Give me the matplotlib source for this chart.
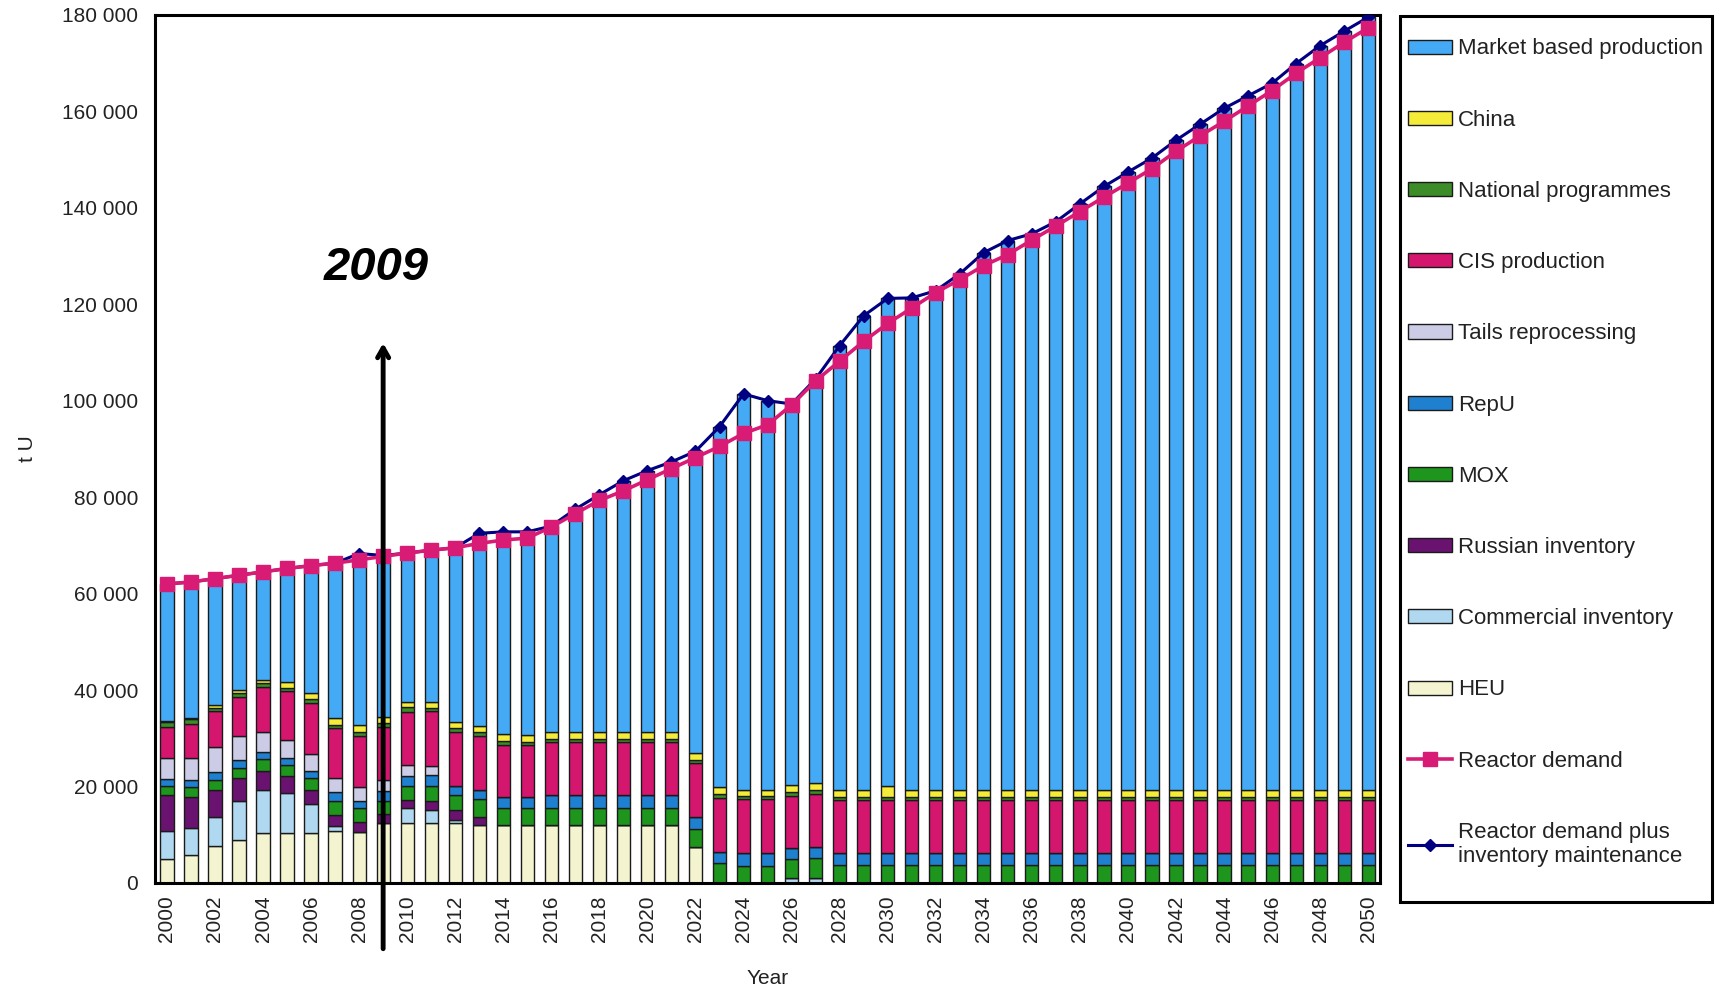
import matplotlib.pyplot as plt
from matplotlib.patches import Patch, Rectangle
from matplotlib.lines import Line2D
from matplotlib.ticker import FuncFormatter

plt.rcParams['font.family'] = ['Liberation Sans', 'DejaVu Sans']

years = list(range(2000, 2051))

# thousand tU
heu = [4.9, 5.8, 7.7, 8.9, 10.3, 10.3, 10.3, 10.8, 10.6, 12.4,
       12.5, 12.5, 12.5, 12.0, 12.0, 12.0, 12.0, 12.0, 12.0, 12.0,
       12.0, 12.0, 7.5] + [0] * 28
commercial_inv = [5.9, 5.5, 5.9, 8.0, 8.9, 8.3, 6.1, 1.0, 0, 0,
                  3.0, 2.6, 0.5] + [0] * 13 + [1.0, 1.0] + [0] * 23
russian_inv = [7.4, 6.5, 5.7, 4.8, 4.1, 3.5, 2.9, 2.3, 2.1, 1.8,
               1.6, 1.8, 2.1, 1.75] + [0] * 37
mox = [2.0, 2.1, 2.1, 2.2, 2.4, 2.3, 2.4, 2.8, 2.8, 2.7,
       3.0, 3.2, 3.2, 3.65, 3.5, 3.5, 3.5, 3.5, 3.5, 3.5,
       3.5, 3.5, 3.6, 4.1, 3.6, 3.6, 4.0, 4.2] + [3.7] * 23
repu = [1.3, 1.4, 1.7, 1.6, 1.4, 1.5, 1.6, 1.9, 1.5, 2.1,
        2.0, 2.3, 1.8, 1.9, 2.3, 2.3, 2.8, 2.8, 2.8, 2.8,
        2.8, 2.8, 2.5, 2.4, 2.7, 2.7, 2.3, 2.3] + [2.6] * 23
tails = [4.4, 4.6, 5.1, 4.9, 4.3, 3.8, 3.5, 2.9, 2.9, 2.4,
         2.4, 1.9] + [0] * 39
cis = [6.4, 7.1, 7.5, 8.2, 9.2, 10.0, 10.5, 10.5, 10.5, 11.0,
       11.0, 11.4, 11.3, 11.1, 10.8, 10.8, 10.9, 10.9, 10.9, 10.9,
       10.9, 10.9, 11.2, 11.1, 11.1, 11.1, 10.8, 10.9] + [11.0] * 23
national = [1.0, 0.9, 0.5, 0.7, 0.9, 0.7, 0.8, 0.6, 0.9, 0.7,
            0.9, 0.5, 0.7, 0.8, 0.8, 0.7, 0.7, 0.7, 0.7, 0.7,
            0.7, 0.7, 0.7, 0.9, 0.7, 0.7, 0.8, 0.9] + [0.6] * 23
china = [0.3, 0.3, 0.7, 0.7, 0.6, 1.3, 1.2, 1.4, 1.4, 1.3,
         1.2, 1.4, 1.2, 1.4, 1.5, 1.4, 1.4, 1.4, 1.4, 1.4,
         1.4, 1.4, 1.4, 1.3, 1.2, 1.2, 1.4, 1.4, 1.4, 1.4,
         2.2] + [1.4] * 20
market = [28.4, 28.2, 26.2, 23.8, 22.4, 23.5, 26.5, 32.1, 35.6, 33.5,
          30.8, 31.4, 36.2, 39.9, 41.9, 42.1, 42.7, 46.2, 49.2, 52.1,
          54.2, 56.0, 62.6, 74.8, 82.1, 80.7, 79.0, 83.8, 92.1, 98.3,
          101.1, 102.0, 103.5, 107.0, 111.4, 113.9, 115.3, 117.8, 121.5, 125.1,
          128.1, 131.0, 134.7, 138.0, 141.3, 143.9, 146.5, 150.6, 154.3, 157.3,
          160.2]

reactor_demand = [62.0, 62.4, 63.1, 63.8, 64.5, 65.2, 65.8, 66.3, 67.0, 67.7,
                  68.4, 69.0, 69.5, 70.4, 71.1, 71.5, 73.8, 76.6, 79.3, 81.3,
                  83.6, 85.9, 88.2, 90.5, 93.2, 95.0, 99.1, 104.1, 108.2, 112.3,
                  116.0, 119.2, 122.4, 125.1, 128.0, 130.3, 133.3, 136.2, 139.2, 142.2,
                  145.1, 148.1, 151.7, 154.9, 157.9, 161.1, 164.3, 167.9, 171.1, 174.3,
                  177.3]
demand_plus_inv = [62.0, 62.4, 63.1, 63.8, 64.5, 65.2, 65.8, 66.3, 68.3, 67.9,
                   68.4, 69.0, 69.5, 72.5, 72.8, 72.8, 74.0, 77.5, 80.5, 83.4,
                   85.5, 87.3, 89.5, 94.6, 101.4, 100.0, 99.3, 104.5, 111.4, 117.6,
                   121.2, 121.3, 122.8, 126.3, 130.7, 133.2, 134.6, 137.1, 140.8, 144.4,
                   147.4, 150.3, 154.0, 157.3, 160.6, 163.2, 165.8, 169.9, 173.6, 176.6,
                   179.5]

# bottom to top
stack = [
    ('HEU', heu, '#F4F4D0'),
    ('Commercial inventory', commercial_inv, '#B0D8F0'),
    ('Russian inventory', russian_inv, '#6A1270'),
    ('MOX', mox, '#1E961E'),
    ('RepU', repu, '#2080D0'),
    ('Tails reprocessing', tails, '#CCCCE6'),
    ('CIS production', cis, '#D4166F'),
    ('National programmes', national, '#3C8C28'),
    ('China', china, '#F5EC3A'),
    ('Market based production', market, '#45AAF5'),
]

fig = plt.figure(figsize=(17.21, 9.86), dpi=100)
ax = fig.add_axes([0.090, 0.1045, 0.712, 0.8805])

bottom = [0.0] * len(years)
for name, vals, col in stack:
    ax.bar(years, [v * 1000 for v in vals], 0.55, bottom=bottom, color=col,
           edgecolor='#1a1a1a', linewidth=1.0, zorder=2)
    bottom = [b + v * 1000 for b, v in zip(bottom, vals)]

ax.plot(years, [v * 1000 for v in demand_plus_inv], color='#000080', lw=2.2,
        marker='D', ms=6.5, zorder=3)
ax.plot(years, [v * 1000 for v in reactor_demand], color='#D81B74', lw=2.6,
        marker='s', ms=9.5, zorder=4)

ax.set_xlim(1999.5, 2050.5)
ax.set_ylim(0, 180000)
ax.set_yticks(range(0, 180001, 20000))
ax.yaxis.set_major_formatter(FuncFormatter(lambda v, p: f'{int(v):,}'.replace(',', ' ')))
ax.set_xticks(years[::2])
ax.set_xticklabels([str(y) for y in years[::2]], rotation=90)
ax.tick_params(axis='both', length=0, labelsize=15, colors='#222222')
ax.tick_params(axis='x', pad=9)
ax.tick_params(axis='y', pad=12)
for s in ax.spines.values():
    s.set_linewidth(2.2)
ax.set_xlabel('Year', fontsize=15, color='#222222', labelpad=19)
ax.set_ylabel('t U', fontsize=15, color='#222222', labelpad=18)

# 2009 marker
ax.annotate('', xy=(2009, 112500), xycoords='data',
            xytext=(2009, 0.035), textcoords=('data', 'figure fraction'),
            arrowprops=dict(arrowstyle='->,head_length=0.7,head_width=0.4',
                            color='black', lw=3.5), annotation_clip=False, zorder=6)
ax.text(2008.7, 127500, '2009', fontsize=34, fontweight='bold', fontstyle='italic',
        ha='center', va='center', zorder=6)

# legend box
fig.patches.append(Rectangle((0.8135, 0.085), 0.181, 0.899, transform=fig.transFigure,
                             fill=False, edgecolor='black', linewidth=2.2))
handles = [Patch(facecolor=col, edgecolor='#1a1a1a', label=name) for name, vals, col in stack[::-1]]
handles.append(Line2D([], [], color='#D81B74', lw=2.6, marker='s', ms=9.5, label='Reactor demand'))
handles.append(Line2D([], [], color='#000080', lw=2.2, marker='D', ms=6.5,
                      label='Reactor demand plus\ninventory maintenance'))
fig.legend(handles=handles, loc='upper left', bbox_to_anchor=(0.818, 0.961),
           frameon=False, fontsize=16, labelspacing=2.26, handlelength=2.0,
           handleheight=0.6, handletextpad=0.25, borderaxespad=0, borderpad=0,
           labelcolor='#222222')

fig.savefig('out.png', dpi=100)
